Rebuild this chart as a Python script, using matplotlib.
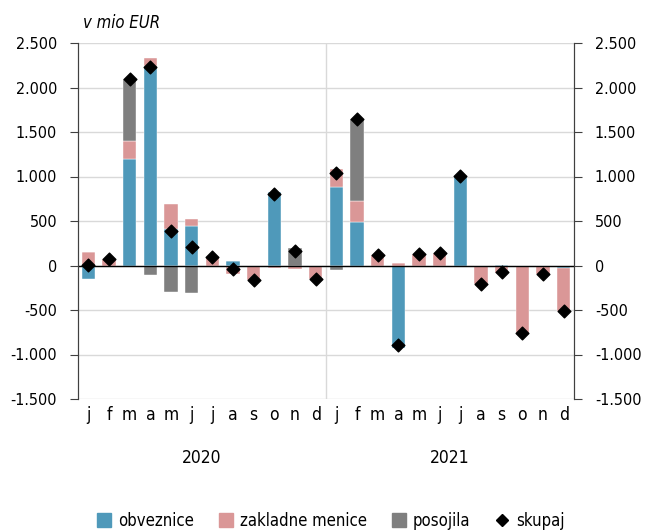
import numpy as np
import matplotlib.pyplot as plt
from matplotlib.lines import Line2D

plt.rcParams['font.family'] = ['DejaVu Sans']
plt.rcParams['font.stretch'] = 'condensed'

# monthly data, in mio EUR
months = ['j', 'f', 'm', 'a', 'm', 'j', 'j', 'a', 's', 'o', 'n', 'd'] * 2
years = ['2020', '2021']
obveznice = [-150, 0, 1200, 2245, 414, 444, 0, 50, 0, 830, 0, 0,
             885, 492, 0, -925, 0, 0, 1005, 0, 10, 0, 0, -30]
zakladne_menice = [150, 70, 200, 83, 276, 75, 92, -92, -160, -25, -35, -150,
                   197, 236, 118, 30, 130, 140, 0, -210, -80, -760, -95, -480]
posojila = [0, 0, 690, -103, -301, -310, 0, 0, 0, 0, 200, 0,
            -47, 918, 0, 0, 0, 0, 0, 0, 0, 0, 0, 0]
skupaj = [5, 70, 2090, 2225, 389, 209, 92, -42, -160, 805, 165, -150,
          1035, 1646, 118, -895, 130, 140, 1005, -210, -70, -760, -95, -510]

c_obv = '#4f99ba'
c_zak = '#da9797'
c_pos = '#7f7f7f'

fig = plt.figure(figsize=(6.45, 5.32), dpi=100)
ax = fig.add_axes([78 / 645, 1 - 399 / 532, 496 / 645, 356 / 532])

x = np.arange(len(months))
w = 0.66
pos_base = np.zeros(len(x))
neg_base = np.zeros(len(x))
for vals, col in [(obveznice, c_obv), (zakladne_menice, c_zak), (posojila, c_pos)]:
    v = np.array(vals, dtype=float)
    bottom = np.where(v >= 0, pos_base, neg_base)
    ax.bar(x, v, w, bottom=bottom, color=col, edgecolor='white', linewidth=0.3, zorder=2)
    pos_base += np.where(v > 0, v, 0)
    neg_base += np.where(v < 0, v, 0)

ax.scatter(x, skupaj, marker='D', s=42, color='black', zorder=4)

ax.set_xlim(-0.5, len(x) - 0.5)
ax.set_ylim(-1500, 2500)
yt = np.arange(-1500, 2501, 500)
ax.set_yticks(yt)
lbl = [f'{v:,}'.replace(',', '.') for v in yt]
ax.set_yticklabels(lbl, fontsize=11.5)
for v in yt:
    ax.axhline(v, color='#d9d9d9', lw=1, zorder=0)
ax.axhline(0, color='black', lw=1, zorder=3)
ax.axvline(11.5, color='#d9d9d9', lw=1, zorder=0)

ax.set_xticks(x)
ax.set_xticklabels(months, fontsize=12.5)
ax.tick_params(axis='x', length=0, pad=5)
ax.tick_params(axis='y', direction='out', length=5.5, color='#404040', pad=9.5)

ax2 = ax.twinx()
ax2.set_ylim(ax.get_ylim())
ax2.set_yticks(yt)
ax2.set_yticklabels(lbl, fontsize=11.5)
ax2.tick_params(axis='y', direction='out', length=5.5, color='#404040', pad=9.5)

for a in (ax, ax2):
    for s in ('top', 'bottom'):
        a.spines[s].set_visible(False)
    a.spines['left'].set_color('#404040')
    a.spines['right'].set_color('#404040')

for i, yr in enumerate(years):
    ax.text(5.5 + 12 * i, -0.165, yr, transform=ax.get_xaxis_transform(),
            ha='center', va='center', fontsize=12.5)

fig.text(83 / 645, 1 - 23 / 532, 'v mio EUR', fontsize=12, style='italic', va='center')

handles = [
    Line2D([], [], marker='s', ls='', color=c_obv, markersize=10),
    Line2D([], [], marker='s', ls='', color=c_zak, markersize=10),
    Line2D([], [], marker='s', ls='', color=c_pos, markersize=10),
    Line2D([], [], marker='D', ls='', color='black', markersize=6),
]
fig.legend(handles, ['obveznice', 'zakladne menice', 'posojila', 'skupaj'],
           loc='center', bbox_to_anchor=(0.512, 1 - 521 / 532), ncol=4,
           frameon=False, fontsize=12, handletextpad=0.35, columnspacing=1.4,
           handlelength=1.0)

fig.savefig('out.png', dpi=100)
